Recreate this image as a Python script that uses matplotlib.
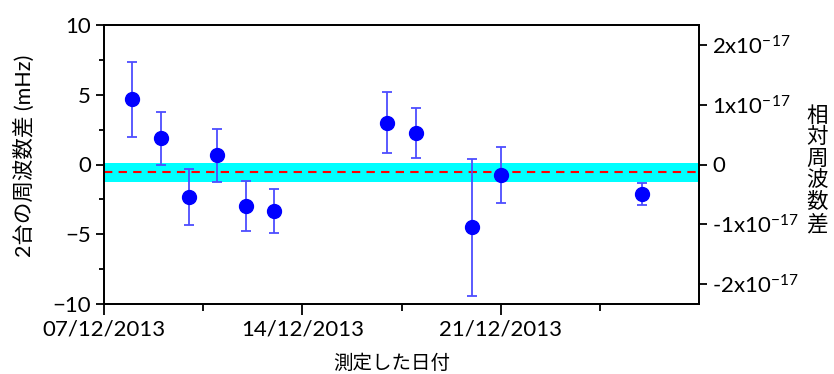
import datetime as dt

import matplotlib
matplotlib.use('Agg')
import matplotlib.pyplot as plt
import matplotlib.dates as mdates
from matplotlib.ticker import FixedLocator, FuncFormatter, MultipleLocator

plt.rcParams['font.family'] = ['Lato', 'Noto Sans CJK JP', 'DejaVu Sans']
plt.rcParams['mathtext.default'] = 'regular'

# 測定日と2台の周波数差 (mHz)
dates = ['2013-12-08', '2013-12-09', '2013-12-10', '2013-12-11', '2013-12-12',
         '2013-12-13', '2013-12-17', '2013-12-18', '2013-12-20', '2013-12-21',
         '2013-12-26']
freq_diff = [4.67, 1.88, -2.35, 0.66, -2.97, -3.33, 3.0, 2.24, -4.5, -0.75, -2.11]
freq_err = [2.7, 1.9, 2.0, 1.9, 1.82, 1.6, 2.2, 1.8, 4.9, 2.0, 0.8]

mean_diff = -0.56
band_low = -1.23
band_high = 0.09

x_ticks = ['2013-12-07', '2013-12-14', '2013-12-21']
x_start = '2013-12-07'
x_end = '2013-12-28'

clock_freq = 4.29e14  # Hz
rel_ticks = [-2e-17, -1e-17, 0, 1e-17, 2e-17]


def to_num(s):
    return mdates.date2num(dt.datetime.strptime(s, '%Y-%m-%d'))


x = [to_num(d) for d in dates]

fig = plt.figure(figsize=(8.34, 3.74), dpi=100)
ax = fig.add_axes([104 / 834, 70 / 374, 595 / 834, 279 / 374])

ax.axhspan(band_low, band_high, color='#00ffff', lw=0, zorder=1)
ax.axhline(mean_diff, color='red', ls='--', lw=1.5, dashes=(4, 3), zorder=2)
ax.errorbar(x, freq_diff, yerr=freq_err, fmt='none', ecolor='#4d4dff',
            elinewidth=1.3, capsize=3.6, capthick=1.3, zorder=3)
ax.plot(x, freq_diff, 'o', color='#0000ff', markersize=10, zorder=4)

ax.set_xlim(to_num(x_start), to_num(x_end))
ax.set_ylim(-10, 10)

xt = [to_num(d) for d in x_ticks]
ax.xaxis.set_major_locator(FixedLocator(xt))
ax.xaxis.set_minor_locator(FixedLocator([v + 3.5 for v in xt]))
ax.xaxis.set_major_formatter(mdates.DateFormatter('%d/%m/%Y'))
ax.yaxis.set_major_locator(MultipleLocator(5))
ax.yaxis.set_minor_locator(MultipleLocator(2.5))

ax.tick_params(axis='both', which='major', direction='out', labelsize=16,
               width=1.3, colors='black')
ax.tick_params(axis='x', which='major', length=8)
ax.tick_params(axis='x', which='minor', length=5, width=1.3)
ax.tick_params(axis='y', which='major', length=6)
ax.tick_params(axis='y', which='minor', length=3.5, width=1.3)
for sp in ax.spines.values():
    sp.set_linewidth(1.3)

ax2 = ax.twinx()
scale = 1e-3 / clock_freq
ax2.set_ylim(-10 * scale, 10 * scale)
ax2.yaxis.set_major_locator(FixedLocator(rel_ticks))


def rel_fmt(v, pos):
    if abs(v) < 1e-25:
        return '0'
    m = round(v / 1e-17)
    return '%dx10$^{-17}$' % m


ax2.yaxis.set_major_formatter(FuncFormatter(rel_fmt))
ax2.tick_params(axis='y', direction='out', length=6, width=1.3, labelsize=16)
for sp in ax2.spines.values():
    sp.set_linewidth(1.3)

fig.text(24 / 834, 1 - 156 / 374, '2台の周波数差 (mHz)', rotation=90,
         ha='center', va='center', fontsize=15.5)
fig.text(817 / 834, 1 - 170 / 374, '\n'.join('相対周波数差'),
         ha='center', va='center', fontsize=15.5, linespacing=1.1)
fig.text(392 / 834, 2 / 374, '測定した日付', ha='center', va='bottom',
         fontsize=14)

fig.savefig('out.png', dpi=100)
plt.close(fig)
